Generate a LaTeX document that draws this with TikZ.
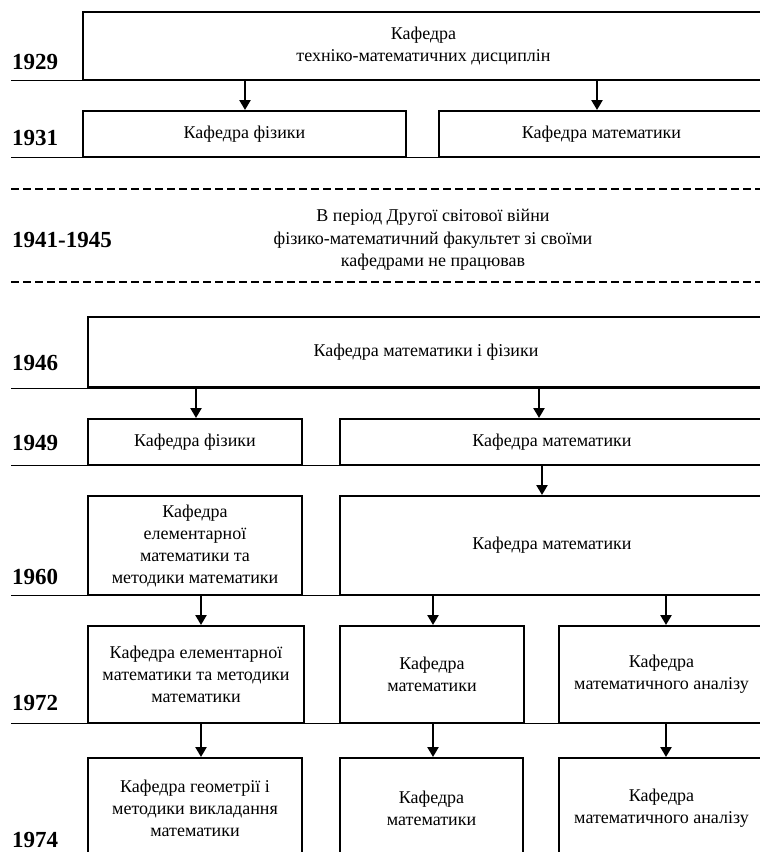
\documentclass[tikz,border=0pt]{standalone}
\usepackage{fontspec}
\setmainfont{Liberation Serif}
\usetikzlibrary{arrows.meta}

\begin{document}
\begin{tikzpicture}[x=1pt,y=-1pt,
  kaf/.style={draw,line width=2pt,fill=white,align=center,inner sep=0pt,
    font=\fontsize{18}{22}\selectfont},
  year/.style={anchor=west,inner sep=0pt,font=\fontsize{23}{26}\selectfont\bfseries},
  tline/.style={line width=0.9pt},
  gapline/.style={line width=1.3pt,dash pattern=on 8pt off 4pt},
  arr/.style={line width=2.6pt,-{Triangle[length=10pt,width=11pt]}}]
\useasboundingbox (0,0) rectangle (760,852);

% timeline
\foreach \yy in {80,157,388,465,595,723}
  \draw[tline] (11,\yy) -- (764,\yy);
\draw[gapline] (11,189) -- (760,189);
\draw[gapline] (11,282) -- (760,282);

% years
\node[year] (y1929) at (12,62) {1929};
\node[year] (y1931) at (12,138) {1931};
\node[year] (y1941) at (12,240) {1941-1945};
\node[year] (y1946) at (12,363) {1946};
\node[year] (y1949) at (12,443) {1949};
\node[year] (y1960) at (12,577) {1960};
\node[year] (y1972) at (12,703) {1972};
\node[year] (y1974) at (12,840) {1974};

% departments
\node[kaf,minimum width=681,minimum height=68] (k1929) at (423.5,46) {Кафедра\\техніко-математичних дисциплін};
\node[kaf,minimum width=323,minimum height=46] (k1931f) at (244.5,134) {Кафедра фізики};
\node[kaf,minimum width=325,minimum height=46] (k1931m) at (601.5,134) {Кафедра математики};

\node[align=center,inner sep=0pt,font=\fontsize{18}{22.5}\selectfont] (war) at (433,240)
  {В період Другої світової війни\\фізико-математичний факультет зі своїми\\кафедрами не працював};

\node[kaf,minimum width=676,minimum height=70] (k1946) at (426,352) {Кафедра математики і фізики};
\node[kaf,minimum width=214,minimum height=46] (k1949f) at (195,442) {Кафедра фізики};
\node[kaf,minimum width=424,minimum height=46] (k1949m) at (552,442) {Кафедра математики};

\node[kaf,minimum width=214,minimum height=99] (k1960e) at (195,545.5) {Кафедра\\елементарної\\математики та\\методики математики};
\node[kaf,minimum width=424,minimum height=99] (k1960m) at (552,545.5) {Кафедра математики};

\node[kaf,minimum width=216,minimum height=97] (k1972e) at (196,674.5) {Кафедра елементарної\\математики та методики\\математики};
\node[kaf,minimum width=184,minimum height=97] (k1972m) at (432,674.5) {Кафедра\\математики};
\node[kaf,minimum width=205,minimum height=97] (k1972a) at (661.5,674.5) {Кафедра\\математичного аналізу};

\node[kaf,minimum width=214,minimum height=100] (k1974g) at (195,808) {Кафедра геометрії і\\методики викладання\\математики};
\node[kaf,minimum width=183,minimum height=100] (k1974m) at (431.5,808) {Кафедра\\математики};
\node[kaf,minimum width=205,minimum height=100] (k1974a) at (661.5,808) {Кафедра\\математичного аналізу};

% arrows
\coordinate (c1) at (245,0);
\coordinate (c2) at (597,0);
\coordinate (c3) at (196,0);
\coordinate (c4) at (539,0);
\coordinate (c5) at (542,0);
\coordinate (c6) at (201,0);
\coordinate (c7) at (433,0);
\coordinate (c8) at (666,0);

\draw[arr] (k1929.south -| c1) -- (k1931f.north -| c1);
\draw[arr] (k1929.south -| c2) -- (k1931m.north -| c2);
\draw[arr] (k1946.south -| c3) -- (k1949f.north -| c3);
\draw[arr] (k1946.south -| c4) -- (k1949m.north -| c4);
\draw[arr] (k1949m.south -| c5) -- (k1960m.north -| c5);
\draw[arr] (k1960e.south -| c6) -- (k1972e.north -| c6);
\draw[arr] (k1960m.south -| c7) -- (k1972m.north -| c7);
\draw[arr] (k1960m.south -| c8) -- (k1972a.north -| c8);
\draw[arr] (k1972e.south -| c6) -- (k1974g.north -| c6);
\draw[arr] (k1972m.south -| c7) -- (k1974m.north -| c7);
\draw[arr] (k1972a.south -| c8) -- (k1974a.north -| c8);

\end{tikzpicture}
\end{document}
